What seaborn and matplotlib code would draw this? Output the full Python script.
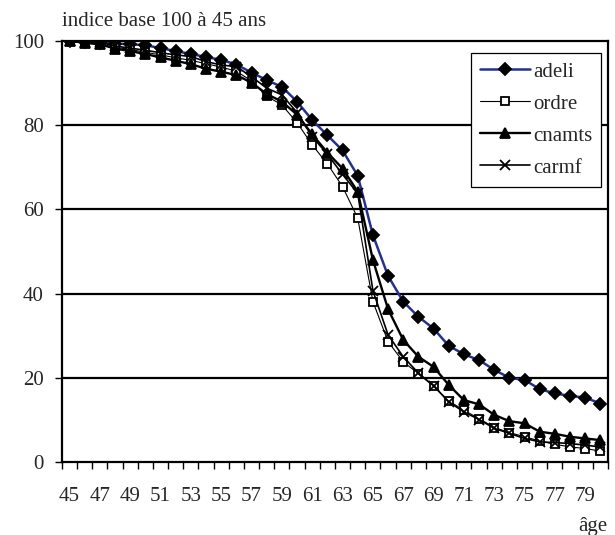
import numpy as np
import pandas as pd
import matplotlib
matplotlib.use("Agg")
import matplotlib.pyplot as plt
import seaborn as sns

# -------------------------------------------------
# DATA
# -------------------------------------------------
ages = list(range(45, 81))

adeli = [100, 99.8, 99.6, 99.4, 99.2, 99.0, 98.3, 97.6, 96.9, 96.2,
         95.5, 94.4, 92.5, 90.7, 89.1, 85.6, 81.2, 77.6, 74.0, 68.0,
         53.9, 44.2, 38.1, 34.5, 31.7, 27.6, 25.6, 24.2, 21.9, 20.0,
         19.5, 17.3, 16.3, 15.7, 15.3, 13.9]

ordre = [100, 99.5, 99.2, 98.5, 98.0, 97.3, 96.7, 96.0, 95.4, 94.6,
         93.8, 92.8, 90.5, 86.9, 84.8, 80.6, 75.3, 70.8, 65.4, 57.9,
         38.1, 28.6, 23.8, 21.0, 18.0, 14.5, 12.3, 10.3, 8.2, 7.0,
         6.0, 5.0, 4.2, 3.6, 3.2, 2.6]

cnamts = [100, 99.6, 99.2, 98.2, 97.6, 96.9, 96.1, 95.3, 94.5, 93.4,
          92.7, 91.9, 90.1, 87.4, 85.6, 82.5, 77.8, 73.5, 69.7, 64.2,
          48.0, 36.3, 29.0, 25.0, 22.6, 18.3, 14.7, 13.7, 11.2, 9.7,
          9.2, 7.2, 6.7, 6.0, 5.6, 5.2]

carmf = [100, 99.8, 99.7, 98.8, 98.3, 97.8, 97.2, 96.7, 96.3, 95.1,
         94.3, 93.9, 91.5, 88.8, 87.2, 83.0, 77.3, 73.1, 68.3, 63.8,
         40.7, 30.2, 25.0, 21.1, 18.1, 14.3, 11.9, 10.1, 8.0, 6.8,
         5.6, 4.8, 4.6, 4.4, 4.0, 3.6]

series_names = ["adeli", "ordre", "cnamts", "carmf"]
y_ticks = [0, 20, 40, 60, 80, 100]
x_labels = list(range(45, 80, 2))

df = pd.DataFrame({"age": ages, "adeli": adeli, "ordre": ordre,
                   "cnamts": cnamts, "carmf": carmf})
long = df.melt(id_vars="age", var_name="serie", value_name="indice")

# -------------------------------------------------
# STYLE
# -------------------------------------------------
sns.set_style("white")
plt.rcParams["font.family"] = ["Liberation Serif", "DejaVu Serif"]

styles = {
    "adeli":  dict(color="#25318f", lw=1.8, marker="D", ms=6.2,
                   mfc="black", mec="black"),
    "ordre":  dict(color="black", lw=0.8, marker="s", ms=5.2,
                   mfc="white", mec="black"),
    "cnamts": dict(color="black", lw=1.7, marker="^", ms=7,
                   mfc="black", mec="black"),
    "carmf":  dict(color="black", lw=1.2, marker="x", ms=7.5,
                   mfc="black", mec="black"),
}

fig = plt.figure(figsize=(6.15, 5.35), dpi=100)
ax = fig.add_axes([0.1008, 0.1364, 0.8878, 0.787])

for name in series_names:
    st = styles[name]
    sub = long[long["serie"] == name]
    sns.lineplot(data=sub, x="age", y="indice", ax=ax, label=name,
                 color=st["color"], linewidth=st["lw"], marker=st["marker"],
                 markersize=st["ms"], markerfacecolor=st["mfc"],
                 markeredgecolor=st["mec"], markeredgewidth=1.3)

# -------------------------------------------------
# AXES
# -------------------------------------------------
ax.set_xlim(44.5, 80.5)
ax.set_ylim(0, 100)

ax.set_yticks(y_ticks)
ax.set_yticklabels([str(v) for v in y_ticks], fontsize=15)
for v in y_ticks[1:-1]:
    ax.axhline(v, color="black", lw=1.6, zorder=0)

# tick marks at category boundaries, labels at centres
ax.set_xticks(np.arange(44.5, 81, 1))
ax.set_xticklabels([])
ax.set_xticks(x_labels, minor=True)
ax.set_xticklabels([str(a) for a in x_labels], minor=True, fontsize=15)
ax.tick_params(axis="x", which="major", direction="out", length=5,
               width=1, color="black", bottom=True)
ax.tick_params(axis="x", which="minor", length=0, pad=18)
ax.tick_params(axis="y", direction="out", length=5, width=1,
               color="black", left=True, pad=8)

for side in ["left", "bottom", "top", "right"]:
    ax.spines[side].set_visible(True)
    ax.spines[side].set_color("black")
    ax.spines[side].set_linewidth(1.6)

ax.set_xlabel("")
ax.set_ylabel("")

fig.text(0.1008, 0.9514, "indice base 100 à 45 ans", fontsize=15,
         ha="left", va="baseline")
fig.text(0.988, 0.015, "âge", fontsize=15, ha="right", va="center")

leg = ax.legend(loc="upper right", bbox_to_anchor=(0.987, 0.971),
                fontsize=15, frameon=True, fancybox=False,
                edgecolor="black", framealpha=1, handlelength=2.4,
                borderpad=0.42, labelspacing=0.6, handletextpad=0.15,
                borderaxespad=0)
leg.get_frame().set_linewidth(0.9)

plt.savefig("out.png", dpi=100)
plt.close()
